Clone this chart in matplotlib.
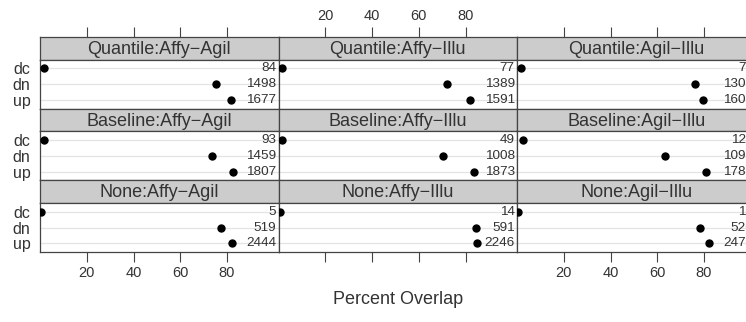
import matplotlib.pyplot as plt

plt.rcParams["font.family"] = ["Liberation Sans", "DejaVu Sans"]

methods = ["Quantile", "Baseline", "None"]
pairs = ["Affy\u2212Agil", "Affy\u2212Illu", "Agil\u2212Illu"]
levels = ["dc", "dn", "up"]

# percent overlap, [method][pair] -> dc, dn, up
overlap = [
    [[1.6, 75.4, 81.7], [1.6, 72.2, 82.0], [1.6, 76.2, 79.5]],
    [[1.7, 73.5, 82.5], [1.3, 70.2, 83.6], [2.4, 63.2, 80.8]],
    [[0.3, 77.4, 82.1], [0.6, 84.3, 84.7], [0.6, 78.4, 82.3]],
]
counts = [
    [[84, 1498, 1677], [77, 1389, 1591], [79, 1309, 1601]],
    [[93, 1459, 1807], [49, 1008, 1873], [129, 1098, 1783]],
    [[5, 519, 2444], [14, 591, 2246], [19, 526, 2475]],
]
xticks = [20, 40, 60, 80]

W, H = 746, 322
fig = plt.figure(figsize=(W / 100, H / 100), dpi=100)

col_left = [40, 278.5, 517]
col_w = 238.5
top = 37
strip_h = 22.5
panel_h = 49.2
row_h = strip_h + panel_h
edge = "#444444"
txt = "#333333"


def box(x, y, w, h):
    return [x / W, 1 - (y + h) / H, w / W, h / H]


for r, m in enumerate(methods):
    for c, p in enumerate(pairs):
        y0 = top + r * row_h
        # strip
        sax = fig.add_axes(box(col_left[c], y0, col_w, strip_h))
        sax.set_facecolor("#cccccc")
        sax.set_xticks([])
        sax.set_yticks([])
        for s in sax.spines.values():
            s.set_color(edge)
            s.set_linewidth(0.9)
        sax.text(0.5, 0.45, f"{m}:{p}", ha="center", va="center",
                 fontsize=13, color=txt, transform=sax.transAxes)
        if r == 0:
            sax.tick_params(top=True, labeltop=(c == 1), length=7,
                            color=edge, labelsize=10.5, labelcolor=txt, pad=3)
            sax.set_xlim(0, 102)
            sax.set_xticks(xticks)
            sax.tick_params(bottom=False, labelbottom=False)

        # panel
        ax = fig.add_axes(box(col_left[c], y0 + strip_h, col_w, panel_h))
        ax.set_xlim(0, 102)
        ax.set_ylim(3.55, 0.45)
        for i in range(3):
            ax.axhline(i + 1, color="#e4e4e4", lw=0.9, zorder=1)
        ax.plot(overlap[r][c], [1, 2, 3], "o", color="black", ms=5, zorder=3)
        for i in range(3):
            ax.text(101, i + 1, str(counts[r][c][i]), ha="right", va="center",
                    fontsize=9.7, color=txt)
        for s in ax.spines.values():
            s.set_color(edge)
            s.set_linewidth(0.9)
        ax.set_yticks([1, 2, 3])
        if c == 0:
            ax.set_yticklabels(levels)
        else:
            ax.set_yticklabels([])
        ax.tick_params(axis="y", length=0, pad=7, labelsize=11.5, labelcolor=txt)
        ax.set_xticks(xticks)
        if r == 2:
            ax.tick_params(axis="x", length=7, color=edge, labelsize=10.5,
                           labelcolor=txt, labelbottom=(c != 1), pad=3)
        else:
            ax.tick_params(axis="x", bottom=False, labelbottom=False)

fig.text(398 / W, 1 - 300 / H, "Percent Overlap",
         ha="center", va="center", fontsize=13, color=txt)

fig.savefig("out.png", dpi=100)
